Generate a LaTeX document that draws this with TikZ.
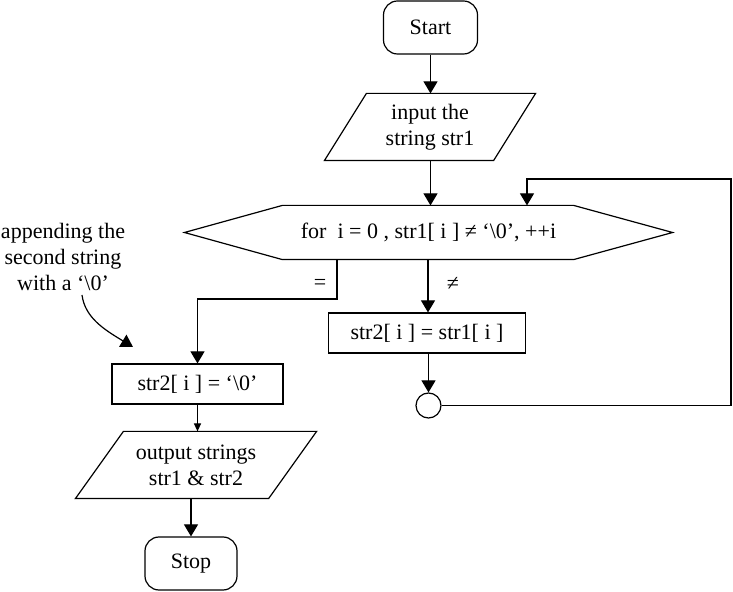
\documentclass[tikz,border=0pt]{standalone}
\usepackage{fontspec}
\setmainfont{Liberation Serif}
\usetikzlibrary{arrows.meta,calc}
\begin{document}
\begin{tikzpicture}[x=0.5pt,y=-0.5pt,
  font=\fontsize{11}{13}\selectfont,
  line width=0.6pt,
  arr/.style={-{Triangle[length=6pt,width=7pt]}},
  sarr/.style={-{Triangle[length=4pt,width=3.5pt]}},
  txt/.style={inner sep=1pt, align=center},
  term/.style={draw, rounded corners=7pt, inner sep=0pt, align=center, minimum width=47pt, minimum height=26.5pt},
  procbox/.style={draw, inner sep=0pt, align=center, minimum height=20pt},
  ghost/.style={inner sep=0pt, align=center}
]
\useasboundingbox (0,0) rectangle (733,592);
\fill[white] (0,0) rectangle (733,592);

% Start
\node[term] (start) at (430.5,27.5) {Start};

% input parallelogram
\node[ghost, minimum width=105pt, minimum height=33pt] (inp) at (430,127) {input the\\string str1};
\draw (inp.south west) -- ($(inp.north west)+(42,0)$) -- (inp.north east) -- ($(inp.south east)+(-42,0)$) -- cycle;

% hexagon
\node[ghost, minimum width=243.5pt, minimum height=26.5pt] (hex) at (428.5,232.5) {for\ \ i = 0 , str1[ i ] ≠ `\textbackslash0', ++i};
\draw (hex.west) -- ($(hex.north west)+(98,0)$) -- ($(hex.north east)+(-99,0)$) -- (hex.east) -- ($(hex.south east)+(-99,0)$) -- ($(hex.south west)+(98,0)$) -- cycle;

% right branch
\node[procbox, minimum width=98.5pt] (box2) at (427,333) {str2[ i ] = str1[ i ]};
\node[draw, circle, inner sep=0pt, minimum size=12.5pt] (circ) at (428.5,405.5) {};

% left branch
\node[procbox, minimum width=85.5pt] (box1) at (197.5,384) {str2[ i ] = `\textbackslash0'};
\node[ghost, minimum width=120pt, minimum height=33pt] (out) at (196,465) {output strings\\str1 \& str2};
\draw (out.south west) -- ($(out.north west)+(48,0)$) -- (out.north east) -- ($(out.south east)+(-48,0)$) -- cycle;
\node[term, minimum width=46pt] (stop) at (191,563.5) {Stop};

% labels
\node[txt] (eqlbl) at (320,284) {=};
\node[txt] (nelbl) at (453,284) {≠};
\node[txt] (note) at (63,257) {appending the\\second string\\with a `\textbackslash0'};

% connectors
\draw[arr] (start.south) -- (inp.north -| start.south);
\draw[arr] (inp.south -| start.south) -- (hex.north -| start.south);

\coordinate (eqc) at (337,299);
\draw[arr] (hex.south -| eqc) -- (eqc) -| (box1.north);

\coordinate (nec) at (428,0);
\draw[arr] (hex.south -| nec) -- (box2.north -| nec);
\draw[arr] (box2.south -| circ.north) -- (circ.north);

\coordinate (cA) at (731,179);
\coordinate (cB) at (527,179);
\draw[arr] (circ.east) -| (cA) -- (cB) -- (cB |- hex.north);

\draw[sarr] (box1.south) -- (out.north -| box1.south);
\draw[arr] (out.south -| stop.north) -- (stop.north);

\coordinate (nstart) at (82,295);
\coordinate (ntip) at (133,347);
\draw[arr] (nstart) .. controls (85,318) and (105,330) .. (ntip);
\end{tikzpicture}
\end{document}
